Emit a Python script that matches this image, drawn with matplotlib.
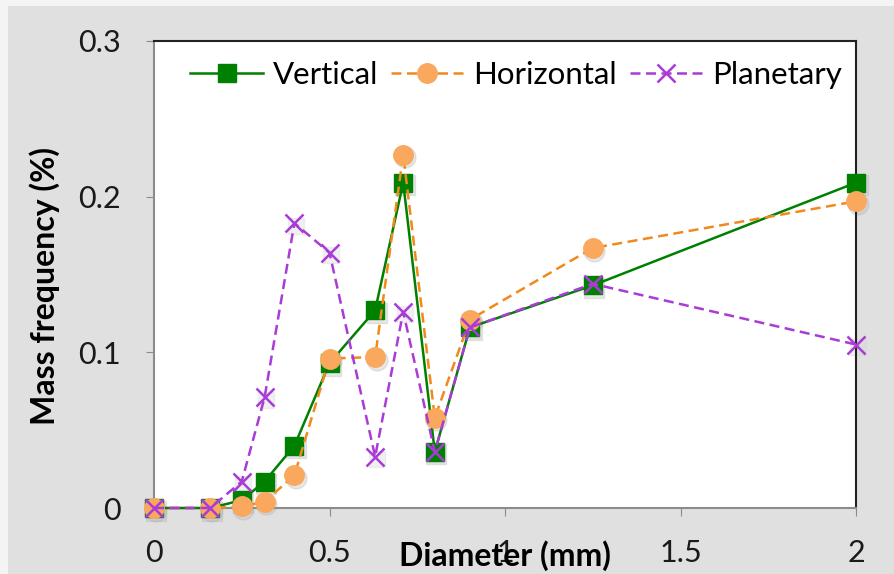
import matplotlib.pyplot as plt
import matplotlib.patches as mpatches
from matplotlib.transforms import offset_copy

plt.rcParams['font.family'] = ['Lato', 'DejaVu Sans']

diameter = [0, 0.16, 0.25, 0.315, 0.4, 0.5, 0.63, 0.71, 0.8, 0.9, 1.25, 2.0]
vertical = [0, 0, 0.005, 0.017, 0.040, 0.093, 0.127, 0.209, 0.036, 0.116, 0.143, 0.209]
horizontal = [0, 0, 0.001, 0.004, 0.021, 0.096, 0.097, 0.227, 0.058, 0.121, 0.167, 0.197]
planetary = [0, 0, 0.017, 0.071, 0.183, 0.164, 0.033, 0.126, 0.036, 0.116, 0.144, 0.105]

xticks = [0, 0.5, 1, 1.5, 2]
xticklabels = ["0", "0.5", "1", "1.5", "2"]
yticks = [0, 0.1, 0.2, 0.3]
yticklabels = ["0", "0.1", "0.2", "0.3"]

fig = plt.figure(figsize=(8.94, 5.74), dpi=100)
fig.patch.set_facecolor("#f4f4f4")
bg = mpatches.Rectangle((8 / 894, 0), 1, 1 - 6 / 574, transform=fig.transFigure,
                        facecolor="#e0e0e0", edgecolor="none", zorder=-5)
fig.add_artist(bg)

# plot area in pixels: x 154..856, y 41..508
ax = fig.add_axes([154 / 894, 1 - 508 / 574, (856 - 154) / 894, (508 - 41) / 574])
ax.set_zorder(2)
ax.set_facecolor("white")

# soft marker shadows
shadow = offset_copy(ax.transData, fig=fig, x=1.2, y=-1.8, units="points")
ax.plot(diameter, vertical, ls="none", marker="s", ms=14, color="#b0b0b0", alpha=0.3,
        transform=shadow, zorder=2, clip_on=False)
ax.plot(diameter, horizontal, ls="none", marker="o", ms=15, color="#b0b0b0", alpha=0.3,
        transform=shadow, zorder=2, clip_on=False)
ax.plot(diameter, planetary, ls="none", marker="s", ms=12, color="#d0d0d0", alpha=0.3,
        transform=shadow, zorder=2, clip_on=False)

dash = (0, (4, 2.2))
ax.plot(diameter, vertical, color="#008000", lw=1.8, marker="s", ms=13,
        mfc="#008000", mec="#008000", label="Vertical", zorder=3, clip_on=False)
ax.plot(diameter, horizontal, color="#f08a1c", lw=1.8, ls=dash, marker="o", ms=14,
        mfc="#f9a85d", mec="#f9a85d", label="Horizontal", zorder=4, clip_on=False)
ax.plot(diameter, planetary, color="#a93bd6", lw=1.8, ls=dash, marker="x", ms=13,
        mew=1.8, label="Planetary", zorder=5, clip_on=False)

ax.set_xlim(0, 2)
ax.set_ylim(0, 0.3)
ax.set_xticks(xticks)
ax.set_xticklabels(xticklabels)
ax.set_yticks(yticks)
ax.set_yticklabels(yticklabels)
ax.tick_params(axis="both", labelsize=22, length=6, color="#8c8c8c", labelcolor="#1a1a1a")
ax.tick_params(axis="x", pad=16)
ax.tick_params(axis="y", pad=18)
for s in ["left", "bottom"]:
    ax.spines[s].set_color("#8c8c8c")
    ax.spines[s].set_linewidth(1.5)
for s in ["top", "right"]:
    ax.spines[s].set_color("#222222")
    ax.spines[s].set_linewidth(1.5)

ax.set_ylabel("Mass frequency (%)", fontsize=23, fontweight="bold")
ax.yaxis.set_label_coords(-(154 - 45) / 702, (508 - 286) / 467)
ax.yaxis.label.set_va("center")
ax.set_xlabel("Diameter (mm)", fontsize=23, fontweight="bold")
ax.xaxis.set_label_coords(0.5, -(556 - 508) / 467)
ax.xaxis.label.set_va("center")

ax.legend(loc="center left", ncol=3, frameon=False, fontsize=22.5,
          bbox_to_anchor=((190 - 154) / 702, (508 - 75) / 467),
          borderaxespad=0, borderpad=0,
          handlelength=2.35, handletextpad=0.3, columnspacing=0.4)

fig.savefig("out.png", dpi=100, facecolor=fig.get_facecolor())
